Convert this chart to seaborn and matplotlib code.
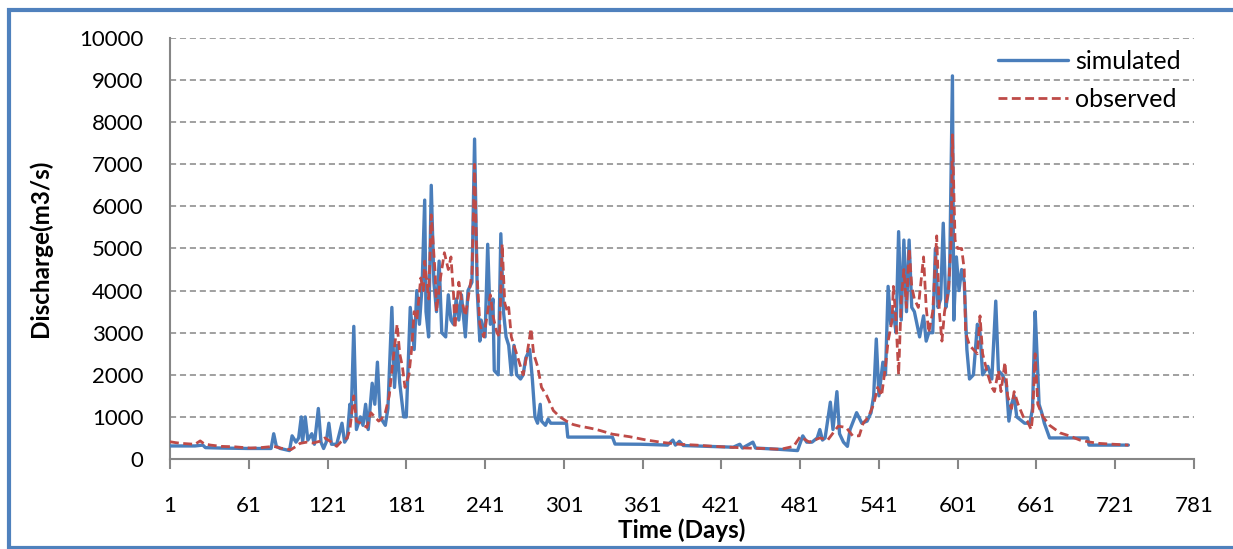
import matplotlib
matplotlib.use("Agg")
import matplotlib.pyplot as plt
from matplotlib.lines import Line2D
import seaborn as sns
import pandas as pd

# ---------------- data ----------------
sim_days = [1, 10, 20, 26, 28, 40, 60, 78, 80, 82, 85, 92, 94, 97, 99, 101, 102, 104, 106, 109, 111, 114, 116, 118,
            120, 122, 124, 128, 132, 134, 136, 138, 139, 141, 143, 146, 148, 150, 152, 155, 157, 159, 161, 163, 165,
            167, 170, 172, 174, 176, 179, 181, 184, 187, 189, 191, 193, 195, 196, 198, 200, 202, 204, 206, 208, 211,
            213, 215, 217, 219, 221, 223, 226, 228, 231, 233, 235, 237, 238, 241, 243, 245, 247, 248, 251, 253, 255,
            257, 259, 261, 263, 265, 268, 270, 272, 275, 277, 279, 281, 283, 284, 287, 289, 291, 303, 304, 320, 338,
            340, 360, 380, 384, 386, 389, 392, 410, 430, 435, 437, 445, 447, 465, 479, 483, 486, 490, 494, 496, 498,
            500, 504, 506, 509, 511, 514, 517, 519, 524, 528, 532, 535, 537, 539, 541, 544, 546, 548, 550, 552, 554,
            556, 558, 560, 562, 564, 566, 568, 570, 572, 575, 577, 579, 582, 584, 586, 588, 590, 592, 594, 595, 597,
            598, 600, 602, 604, 606, 608, 610, 613, 616, 618, 620, 624, 627, 630, 632, 635, 638, 640, 642, 644, 646,
            648, 652, 656, 658, 660, 661, 663, 665, 667, 671, 700, 701, 731]
sim_vals = [310, 310, 310, 330, 270, 260, 250, 250, 600, 300, 250, 200, 550, 400, 500, 1000, 400, 1000, 450, 600, 350,
            1200, 400, 250, 400, 850, 350, 350, 850, 400, 500, 1300, 1000, 3150, 700, 1000, 800, 1300, 700, 1800, 1300,
            2300, 1000, 900, 800, 1200, 3600, 1700, 2700, 1800, 1000, 1000, 3600, 2600, 4000, 3200, 4100, 6150, 3500,
            2900, 6500, 4200, 3500, 4700, 3000, 2900, 3900, 3300, 3200, 3800, 3300, 3900, 2900, 4000, 4200, 7600, 4000,
            2800, 3300, 2900, 5100, 3200, 3800, 2100, 2000, 5350, 3500, 2900, 2700, 2000, 2700, 2000, 1900, 2000, 2400,
            2600, 1900, 1000, 850, 1300, 900, 800, 950, 850, 850, 520, 520, 520, 355, 350, 330, 450, 330, 420, 320, 300,
            280, 350, 260, 400, 260, 230, 200, 550, 400, 400, 500, 700, 450, 500, 1350, 700, 1600, 600, 400, 300, 700,
            1100, 850, 900, 1100, 1500, 2850, 1500, 2300, 2000, 4100, 3200, 3500, 3000, 5400, 3300, 5200, 3500, 5200,
            3600, 3500, 3200, 2900, 3400, 2800, 3000, 3000, 5000, 3600, 3800, 5600, 3600, 4000, 4700, 9100, 3300, 4800,
            4000, 4500, 4200, 2600, 1900, 2000, 3200, 3000, 2000, 2200, 1900, 3750, 2100, 2000, 1800, 900, 1300, 1500,
            1000, 950, 850, 850, 1200, 3500, 2800, 1300, 1100, 850, 500, 500, 330, 330]

obs_days = [1, 5, 10, 15, 20, 24, 27, 32, 40, 50, 62, 70, 80, 85, 93, 97, 100, 105, 110, 115, 119, 124, 128, 131, 136,
            138, 141, 143, 146, 151, 154, 157, 160, 162, 165, 168, 170, 174, 176, 178, 180, 183, 185, 187, 189, 192,
            194, 195, 198, 200, 203, 204, 207, 210, 213, 215, 217, 218, 221, 223, 226, 228, 231, 233, 235, 237, 240,
            242, 245, 247, 250, 252, 254, 256, 258, 259, 261, 264, 266, 270, 273, 276, 278, 281, 284, 288, 293, 298,
            303, 308, 313, 320, 326, 338, 351, 364, 377, 389, 402, 415, 428, 440, 453, 466, 476, 481, 488, 496, 502,
            510, 516, 521, 526, 529, 533, 537, 540, 543, 546, 548, 551, 552, 554, 556, 558, 560, 562, 564, 566, 568,
            571, 574, 575, 577, 579, 582, 585, 587, 589, 591, 594, 596, 597, 599, 601, 604, 606, 607, 610, 613, 616,
            618, 620, 624, 627, 629, 632, 634, 637, 639, 642, 644, 647, 651, 654, 657, 658, 660, 662, 666, 671, 679,
            686, 694, 702, 709, 720, 731]
obs_vals = [410, 390, 370, 360, 350, 430, 360, 330, 300, 290, 260, 270, 300, 260, 220, 300, 370, 400, 380, 420, 500,
            400, 300, 400, 500, 700, 1500, 900, 850, 750, 1100, 1000, 900, 950, 1100, 1500, 2100, 3200, 2500, 2200,
            1700, 2000, 2600, 3500, 3300, 4300, 4000, 4700, 3800, 5800, 4400, 3500, 4300, 4900, 4500, 4800, 3900, 3100,
            4200, 3800, 3400, 3800, 4400, 7000, 4300, 3200, 2900, 3300, 3900, 3400, 3000, 2900, 5100, 3700, 3500, 3600,
            2900, 2600, 2400, 2000, 2500, 3100, 2500, 2200, 1700, 1500, 1150, 1000, 900, 820, 780, 740, 700, 590, 530,
            450, 390, 350, 330, 300, 280, 260, 250, 230, 300, 530, 400, 500, 450, 780, 750, 550, 550, 850, 1000, 1300,
            1700, 1500, 2200, 2800, 3300, 4100, 3300, 2000, 3800, 4500, 3600, 5000, 4100, 3800, 3600, 4500, 4800, 3600,
            3000, 3500, 5300, 3500, 2800, 3500, 4000, 5200, 7700, 5200, 5000, 5000, 4500, 3000, 2700, 2600, 2500, 3400,
            2500, 2000, 1700, 1600, 2100, 1600, 2300, 1500, 1200, 1600, 1300, 1000, 900, 700, 1000, 2500, 1300, 1000,
            800, 620, 550, 450, 400, 370, 350, 330]

x_ticks = [1, 61, 121, 181, 241, 301, 361, 421, 481, 541, 601, 661, 721, 781]
y_ticks = [0, 1000, 2000, 3000, 4000, 5000, 6000, 7000, 8000, 9000, 10000]
series_names = ["simulated", "observed"]

# ---------------- figure ----------------
W, H = 1233, 549
sns.set_theme(style="white")
plt.rcParams["font.family"] = ["Lato", "DejaVu Sans"]

fig = plt.figure(figsize=(W / 100, H / 100), dpi=100, linewidth=0, edgecolor="white")
fig.patch.set_facecolor("white")
fig.patch.set_linewidth(0)
ax = fig.add_axes([170 / W, 1 - 459 / H, (1194 - 170) / W, (459 - 38) / H])

grid_c = "#868686"
blue = "#4A7EBB"
red = "#BE4B48"

for yv in y_ticks[1:]:
    ax.axhline(yv, color=grid_c, lw=1.1, dashes=(4, 2.5), zorder=0)

sim_df = pd.DataFrame({"Day": sim_days, "Q": sim_vals})
obs_df = pd.DataFrame({"Day": obs_days, "Q": obs_vals})
sns.lineplot(data=sim_df, x="Day", y="Q", ax=ax, color=blue, lw=2.4, label=series_names[0], zorder=3)
sns.lineplot(data=obs_df, x="Day", y="Q", ax=ax, color=red, lw=2.0, label=series_names[1], zorder=4,
             dashes=False)
ax.lines[-1].set_dashes((3.2, 1.6))

ax.set_xlim(1, 781)
ax.set_ylim(0, 10000)
ax.set_xticks(x_ticks)
ax.set_xticklabels([str(v) for v in x_ticks])
ax.set_yticks(y_ticks)
ax.set_yticklabels([str(v) for v in y_ticks])

for s in ["top", "right"]:
    ax.spines[s].set_visible(False)
for s in ["left", "bottom"]:
    ax.spines[s].set_color(grid_c)
    ax.spines[s].set_linewidth(1.5)

ax.tick_params(axis="x", direction="out", length=7, width=1.5, color=grid_c, pad=20, labelsize=16,
               labelcolor="black", bottom=True)
ax.tick_params(axis="y", length=0, pad=19, labelsize=16, labelcolor="black", left=True)

ax.set_xlabel("Time (Days)", fontsize=17.5, fontweight="bold", color="black")
ax.set_ylabel("Discharge(m3/s)", fontsize=17.5, fontweight="bold", color="black")
ax.xaxis.set_label_coords(0.5, (459 - 530) / 421)
ax.xaxis.label.set_va("center")
ax.yaxis.set_label_coords((40 - 170) / 1024, 0.5)
ax.yaxis.label.set_va("center")

leg = ax.legend(loc="upper left", bbox_to_anchor=((998 - 170) / 1024, (459 - 50) / 421), frameon=False,
                fontsize=18, handlelength=2.8, handletextpad=0.3, labelspacing=0.6, borderpad=0, borderaxespad=0)
for t in leg.get_texts():
    t.set_color("black")
leg.get_lines()[1].set_dashes((3.2, 1.6))

# chart-area border (left, top, bottom edges; right edge runs off the picture in the reference)
bc = "#4F81BD"
xl, yt, yb = 9 / W, 1 - 9.5 / H, 1 - 547.5 / H
fig.add_artist(Line2D([1.05, xl, xl, 1.05], [yt, yt, yb, yb], transform=fig.transFigure, color=bc, lw=3,
                      solid_joinstyle="miter", clip_on=False))

fig.savefig("out.png", dpi=100, edgecolor="white")
